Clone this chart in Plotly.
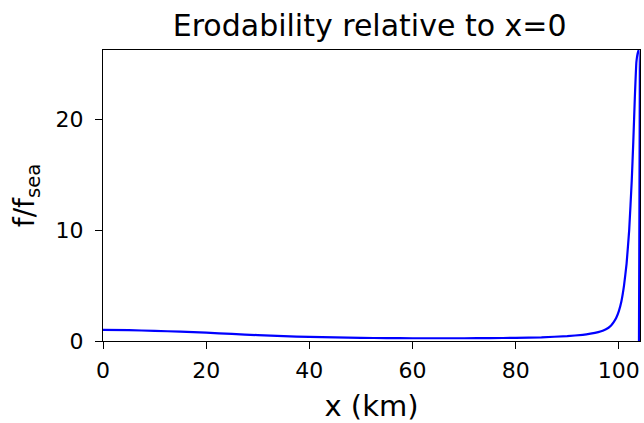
import plotly.graph_objects as go

x_km = [0, 5, 10, 15, 20, 25, 30, 35, 40, 45, 50, 55, 60, 65, 70, 75, 80, 85, 90,
        93, 94.5, 96, 97, 98, 98.5, 99, 99.5, 100, 100.5, 101, 101.5, 102, 102.5,
        102.8, 103.1, 103.4, 103.7, 103.9, 103.9]
f_ratio = [1.0, 0.98, 0.92, 0.84, 0.75, 0.64, 0.53, 0.44, 0.37, 0.32, 0.28, 0.26, 0.25,
           0.25, 0.25, 0.26, 0.28, 0.33, 0.44, 0.56, 0.66, 0.8, 0.95, 1.2, 1.4, 1.7, 2.1,
           2.7, 3.6, 5.0, 7.0, 10.0, 14.5, 18.0, 22.0, 25.2, 26.1, 26.3, 0.0]

x_ticks = [0, 20, 40, 60, 80, 100]
y_ticks = [0, 10, 20]

fig = go.Figure()
fig.add_trace(go.Scatter(x=x_km, y=f_ratio, mode="lines",
                         line=dict(color="#0000ff", width=2.2, shape="spline", smoothing=0.3),
                         showlegend=False))

font = "DejaVu Sans, sans-serif"
fig.update_layout(
    width=644, height=423,
    margin=dict(l=103, r=4, t=50, b=82),
    paper_bgcolor="white", plot_bgcolor="white",
    font=dict(family=font, color="black", size=20),
    title=dict(text="Erodability relative to x=0", x=0.574, xanchor="center",
               y=0.965, yanchor="top", font=dict(size=30, family=font, color="black")),
)
fig.update_xaxes(range=[0, 104.1], tickvals=x_ticks, ticks="outside", ticklen=7,
                 tickwidth=1.2, tickcolor="black", showline=True, linecolor="black",
                 linewidth=1.2, mirror=True, showgrid=False, zeroline=False,
                 ticklabelstandoff=2,
                 tickfont=dict(size=22, family=font, color="black"),
                 title=dict(text="x (km)", font=dict(size=29, family=font, color="black"), standoff=14))
fig.update_yaxes(range=[0, 26.3], tickvals=y_ticks, ticks="outside", ticklen=7,
                 tickwidth=1.2, tickcolor="black", showline=True, linecolor="black",
                 linewidth=1.2, mirror=True, showgrid=False, zeroline=False,
                 ticklabelstandoff=7,
                 tickfont=dict(size=22, family=font, color="black"),
                 title=dict(text="f/f<sub>sea</sub>", font=dict(size=28, family=font, color="black"), standoff=12))

fig.write_html("out.html")
